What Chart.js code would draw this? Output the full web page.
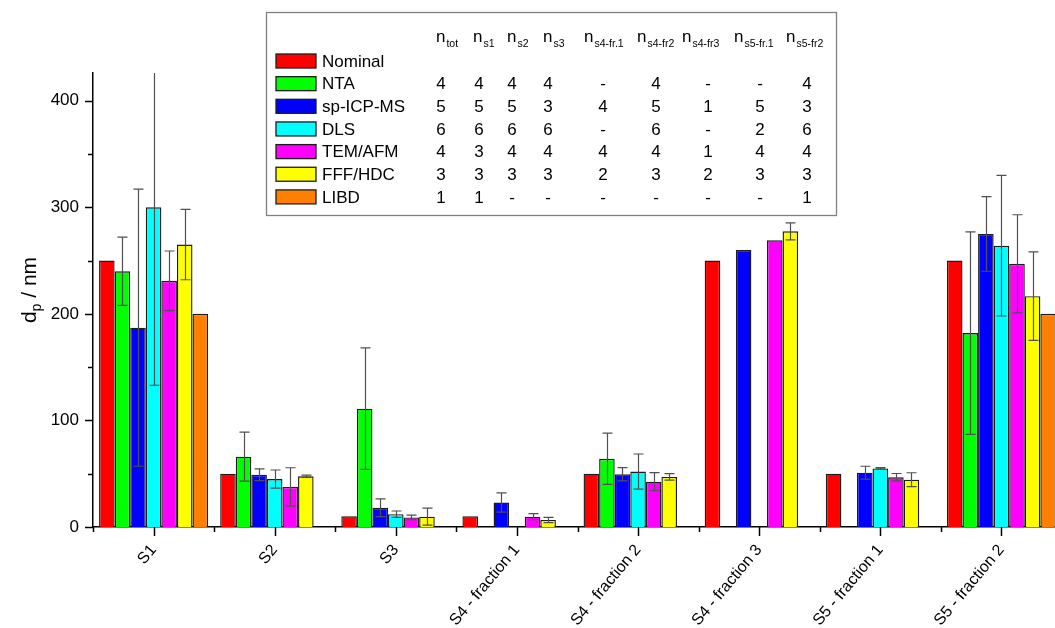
<!DOCTYPE html>
<html>
<head>
<meta charset="utf-8">
<script src="https://cdn.jsdelivr.net/npm/chart.js@4/dist/chart.umd.min.js"></script>
<style>
  html, body { margin: 0; padding: 0; overflow: hidden; background: #ffffff; }
  canvas { display: block; }
</style>
</head>
<body>
<canvas id="chart" width="1062" height="628"></canvas>
<script>
// Particle diameter per sample and method (nm); errors are +/- one standard deviation
const categories = ['S1', 'S2', 'S3', 'S4 - fraction 1', 'S4 - fraction 2', 'S4 - fraction 3', 'S5 - fraction 1', 'S5 - fraction 2'];

const nominal   = [250, 50, 10, 10, 50, 250, 50, 250];

const nta       = [240, 66, 111, null, 64, null, null, 182];
const ntaErr    = [32, 23, 57, null, 24, null, null, 95];

const icpms     = [187, 49, 18, 23, 49.5, 260, 51, 275];
const icpmsErr  = [130, 5.5, 8.3, 9, 6.3, null, 6, 35];

const dls       = [300, 45, 12, null, 52, null, 55, 264];
const dlsErr    = [167, 8.5, 3, null, 16.5, null, 0.7, 66];

const temafm    = [231, 37.6, 9, 9.7, 42.5, 269, 46.7, 247];
const temafmErr = [28, 18, 2.2, 2.8, 8.5, null, 3.5, 46];

const fffhdc    = [265, 47.6, 9.7, 6.6, 47, 277.4, 44.4, 216.6];
const fffhdcErr = [33, 1, 8, 2.5, 3, 8, 6.5, 41.5];

const libd      = [200, null, null, null, null, null, null, 200];

// Number of measurements table shown in the key
const countHeads = [['n', 'tot'], ['n', 's1'], ['n', 's2'], ['n', 's3'], ['n', 's4-fr.1'], ['n', 's4-fr2'], ['n', 's4-fr3'], ['n', 's5-fr.1'], ['n', 's5-fr2']];
const countsNominal = [];
const countsNTA     = ['4', '4', '4', '4', '-', '4', '-', '-', '4'];
const countsICPMS   = ['5', '5', '5', '3', '4', '5', '1', '5', '3'];
const countsDLS     = ['6', '6', '6', '6', '-', '6', '-', '2', '6'];
const countsTEMAFM  = ['4', '3', '4', '4', '4', '4', '1', '4', '4'];
const countsFFFHDC  = ['3', '3', '3', '3', '2', '3', '2', '3', '3'];
const countsLIBD    = ['1', '1', '-', '-', '-', '-', '-', '-', '1'];

const yTicks = [0, 100, 200, 300, 400];

const FONT = "'Liberation Sans', Arial, Helvetica, sans-serif";

function series(label, values, errors, color, counts) {
  return {
    label: label,
    data: values,
    errors: errors,
    counts: counts,
    backgroundColor: color,
    borderColor: '#1c1c1c',
    borderWidth: 1.4,
    borderSkipped: 'bottom',
    categoryPercentage: 0.9,
    barPercentage: 1.0
  };
}

const datasets = [
  series('Nominal',    nominal, null,      '#ff0000', countsNominal),
  series('NTA',        nta,     ntaErr,    '#00ff00', countsNTA),
  series('sp-ICP-MS',  icpms,   icpmsErr,  '#0000ff', countsICPMS),
  series('DLS',        dls,     dlsErr,    '#00ffff', countsDLS),
  series('TEM/AFM',    temafm,  temafmErr, '#ff00ff', countsTEMAFM),
  series('FFF/HDC',    fffhdc,  fffhdcErr, '#ffff00', countsFFFHDC),
  series('LIBD',       libd,    null,      '#ff8000', countsLIBD)
];

// Error bars, clipped to the plot area
const errorBars = {
  id: 'errorBars',
  afterDatasetsDraw(chart) {
    const ctx = chart.ctx;
    const area = chart.chartArea;
    const y = chart.scales.y;
    ctx.save();
    ctx.beginPath();
    ctx.rect(area.left, area.top, area.right - area.left, area.bottom - area.top);
    ctx.clip();
    ctx.strokeStyle = '#505050';
    ctx.lineWidth = 1.2;
    chart.data.datasets.forEach((ds, i) => {
      if (!ds.errors) return;
      const meta = chart.getDatasetMeta(i);
      meta.data.forEach((bar, j) => {
        const v = ds.data[j];
        const e = ds.errors[j];
        if (v == null || e == null) return;
        const x = Math.round(bar.x) + 0.5;
        const yt = y.getPixelForValue(v + e);
        const yb = y.getPixelForValue(v - e);
        const cap = 5;
        ctx.beginPath();
        ctx.moveTo(x, yt); ctx.lineTo(x, yb);
        ctx.moveTo(x - cap, yt); ctx.lineTo(x + cap, yt);
        ctx.moveTo(x - cap, yb); ctx.lineTo(x + cap, yb);
        ctx.stroke();
      });
    });
    ctx.restore();
  }
};

// Major and minor tick marks on both axes, plus the y-axis title
const axisTicks = {
  id: 'axisTicks',
  afterDraw(chart) {
    const ctx = chart.ctx;
    const area = chart.chartArea;
    const x = chart.scales.x;
    const y = chart.scales.y;
    ctx.save();
    ctx.strokeStyle = '#000000';
    ctx.lineWidth = 1.5;
    ctx.beginPath();
    for (let v = 0; v <= 400; v += 50) {
      const py = Math.round(y.getPixelForValue(v)) + 0.5;
      const len = v % 100 === 0 ? 8 : 5;
      ctx.moveTo(area.left, py); ctx.lineTo(area.left - len, py);
    }
    const n = categories.length;
    const step = (area.right - area.left) / n;
    for (let i = 0; i < n; i++) {
      const cx = Math.round(x.getPixelForValue(i)) + 0.5;
      ctx.moveTo(cx, area.bottom); ctx.lineTo(cx, area.bottom + 9);
      const bx = Math.round(area.left + i * step) + 0.5;
      ctx.moveTo(bx, area.bottom); ctx.lineTo(bx, area.bottom + 5);
    }
    ctx.stroke();

    ctx.fillStyle = '#000000';
    ctx.translate(30, 290);
    ctx.rotate(-Math.PI / 2);
    ctx.textBaseline = 'middle';
    const main = '21px ' + FONT;
    const sub = '14px ' + FONT;
    ctx.font = main;
    const wd = ctx.measureText('d').width;
    const wr = ctx.measureText(' / nm').width;
    ctx.font = sub;
    const wp = ctx.measureText('p').width;
    let tx = -(wd + wp + wr) / 2;
    ctx.textAlign = 'left';
    ctx.font = main; ctx.fillText('d', tx, 0); tx += wd;
    ctx.font = sub; ctx.fillText('p', tx, 7); tx += wp;
    ctx.font = main; ctx.fillText(' / nm', tx, 0);
    ctx.restore();
  }
};

// Key with method swatches and table of measurement counts
const keyTable = {
  id: 'keyTable',
  afterDraw(chart) {
    const ctx = chart.ctx;
    const box = { x: 266.5, y: 12.5, w: 570, h: 203 };
    const colX = [441, 479, 512, 548, 603, 656, 708, 760, 807];
    const headX = [436, 473, 507, 543, 584, 637, 682, 734, 786];
    const row0 = 61, rowStep = 22.65;
    ctx.save();
    ctx.fillStyle = '#ffffff';
    ctx.fillRect(box.x, box.y, box.w, box.h);
    ctx.strokeStyle = '#808080';
    ctx.lineWidth = 1.3;
    ctx.strokeRect(box.x, box.y, box.w, box.h);

    ctx.fillStyle = '#000000';
    ctx.textBaseline = 'middle';
    ctx.textAlign = 'left';
    countHeads.forEach((h, k) => {
      ctx.font = '17px ' + FONT;
      ctx.fillText(h[0], headX[k], 37);
      const w = ctx.measureText(h[0]).width;
      ctx.font = '10.5px ' + FONT;
      ctx.fillText(h[1], headX[k] + w + 1, 44);
    });

    chart.data.datasets.forEach((ds, i) => {
      const ry = row0 + i * rowStep;
      ctx.fillStyle = ds.backgroundColor;
      ctx.fillRect(276, ry - 7, 40, 14);
      ctx.strokeStyle = '#1c1c1c';
      ctx.lineWidth = 1.3;
      ctx.strokeRect(276, ry - 7, 40, 14);
      ctx.fillStyle = '#000000';
      ctx.font = '17px ' + FONT;
      ctx.textAlign = 'left';
      ctx.fillText(ds.label, 322, ry + 1);
      ctx.textAlign = 'center';
      ds.counts.forEach((c, k) => {
        ctx.fillText(c, colX[k], ry + 1);
      });
    });
    ctx.restore();
  }
};

new Chart(document.getElementById('chart'), {
  type: 'bar',
  data: { labels: categories, datasets: datasets },
  options: {
    responsive: false,
    animation: false,
    layout: { padding: { top: 73, left: 0, right: 0, bottom: 0 } },
    plugins: {
      legend: { display: false },
      tooltip: { enabled: false },
      title: { display: false }
    },
    scales: {
      x: {
        offset: true,
        grid: { display: false, drawTicks: false },
        border: { display: true, color: '#000000', width: 1.5 },
        ticks: {
          autoSkip: false,
          minRotation: 50,
          maxRotation: 50,
          padding: 14,
          color: '#000000',
          font: { family: FONT, size: 16 }
        },
        afterFit(scale) { scale.height = 101; }
      },
      y: {
        min: 0,
        max: 426,
        afterBuildTicks(scale) { scale.ticks = yTicks.map(v => ({ value: v })); },
        grid: { display: false, drawTicks: false },
        border: { display: true, color: '#000000', width: 1.5 },
        ticks: {
          padding: 14,
          color: '#000000',
          font: { family: FONT, size: 17 }
        },
        afterFit(scale) { scale.width = 93; }
      }
    }
  },
  plugins: [errorBars, axisTicks, keyTable]
});
</script>
</body>
</html>
